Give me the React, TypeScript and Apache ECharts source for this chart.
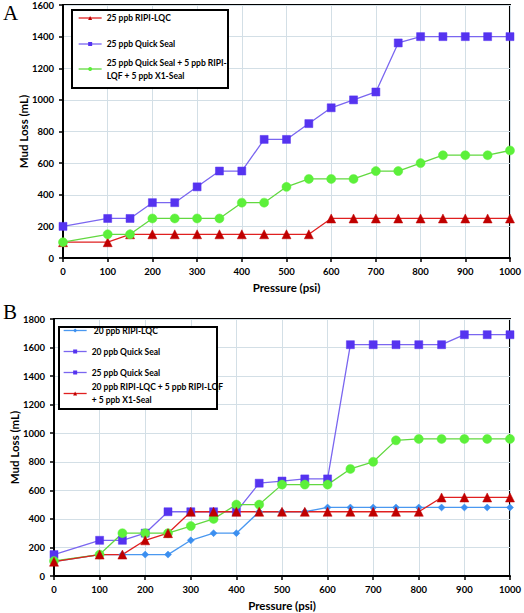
import { useEffect, useRef } from "react";
import * as echarts from "echarts";

const pressures = [0, 100, 150, 200, 250, 300, 350, 400, 450, 500, 550, 600, 650, 700, 750, 800, 850, 900, 950, 1000];

// Chart A
const a25RipiLqc = [100, 100, 150, 150, 150, 150, 150, 150, 150, 150, 150, 250, 250, 250, 250, 250, 250, 250, 250, 250];
const a25QuickSeal = [200, 250, 250, 350, 350, 450, 550, 550, 750, 750, 850, 950, 1000, 1050, 1360, 1400, 1400, 1400, 1400, 1400];
const a25Combo = [100, 150, 150, 250, 250, 250, 250, 350, 350, 450, 500, 500, 500, 550, 550, 600, 650, 650, 650, 680];

// Chart B
const b20RipiLqc = [100, 150, 150, 150, 150, 250, 300, 300, 450, 450, 450, 480, 480, 480, 480, 480, 480, 480, 480, 480];
const b20QuickSeal = [150, 250, 250, 300, 450, 450, 450, 450, 650, 665, 680, 680, 1620, 1620, 1620, 1620, 1620, 1690, 1690, 1690];
const b25QuickSeal = [105, 150, 300, 300, 300, 350, 400, 500, 500, 640, 640, 640, 750, 800, 950, 960, 960, 960, 960, 960];
const b20Combo = [100, 150, 150, 250, 300, 450, 450, 450, 450, 450, 450, 450, 450, 450, 450, 450, 550, 550, 550, 550];

const namesA = ["25 ppb RIPI-LQC", "25 ppb Quick Seal", "25 ppb Quick Seal + 5 ppb RIPI-\nLQF + 5 ppb X1-Seal"];
const namesB = [" 20 ppb RIPI-LQC", "20 ppb Quick Seal", "25 ppb Quick Seal", "20 ppb RIPI-LQC + 5 ppb RIPI-LQF\n+ 5 ppb X1-Seal"];

const xAxisTitle = "Pressure (psi)";
const yAxisTitle = "Mud Loss (mL)";

const FONT = "Lato";
const pair = (vals: number[]) => pressures.map((p, i) => [p, vals[i]]);

export default function App() {
  const ref = useRef<HTMLDivElement>(null);
  useEffect(() => {
    const chart = echarts.init(ref.current!, undefined, { renderer: "svg" });
    const axisCommon = {
      axisLine: { show: true, lineStyle: { color: "#000", width: 2 } },
      axisTick: { show: true, length: 4, lineStyle: { color: "#000", width: 1.5 } },
      axisLabel: { color: "#000", fontFamily: FONT, fontWeight: "bold", fontSize: 9.5, formatter: (v: number) => String(v) },
      splitLine: { show: true, lineStyle: { color: "#d3dfe6", width: 1 } },
      nameTextStyle: { color: "#000", fontFamily: FONT, fontWeight: "bold", fontSize: 11.5 },
    };
    const xAxisOf = (gridIndex: number) => ({
      ...axisCommon,
      gridIndex,
      type: "value",
      min: 0,
      max: 1000,
      interval: 100,
      name: xAxisTitle,
      nameLocation: "middle",
      nameGap: 23,
      axisLabel: { ...axisCommon.axisLabel, margin: 8 },
    });
    const yAxisOf = (gridIndex: number, max: number) => ({
      ...axisCommon,
      gridIndex,
      type: "value",
      min: 0,
      max,
      interval: 200,
      axisLabel: { ...axisCommon.axisLabel, margin: 9 },
    });
    const lineSeries = (
      name: string,
      vals: number[],
      idx: number,
      symbol: string,
      size: number,
      markerColor: string,
      lineColor: string
    ) => ({
      type: "line",
      name,
      data: pair(vals),
      xAxisIndex: idx,
      yAxisIndex: idx,
      symbol,
      symbolSize: size,
      showAllSymbol: true,
      itemStyle: { color: markerColor, borderColor: markerColor, borderWidth: 0.5 },
      lineStyle: { color: lineColor, width: 1.3 },
    });
    const legendBase = {
      orient: "vertical",
      itemWidth: 23,
      itemHeight: 5,
      itemGap: 12,
      itemStyle: { borderWidth: 0 },
      lineStyle: { width: 1.3 },
      textStyle: { color: "#000", fontFamily: FONT, fontWeight: "bold", fontSize: 8.5, lineHeight: 13 },
      padding: 0,
    };
    const yTitle = (x: number, y: number) => ({
      type: "text",
      x,
      y,
      rotation: Math.PI / 2,
      style: {
        text: yAxisTitle,
        font: `bold 11.5px ${FONT}`,
        fill: "#000",
        align: "center",
        verticalAlign: "middle",
      },
    });
    chart.setOption({
      animation: false,
      grid: [
        { left: 63, top: 5, width: 448, height: 253, show: true, borderColor: "#000", borderWidth: 2, containLabel: false },
        { left: 54, top: 319, width: 457, height: 257, show: true, borderColor: "#000", borderWidth: 2, containLabel: false },
      ],
      xAxis: [xAxisOf(0), xAxisOf(1)],
      yAxis: [yAxisOf(0, 1600), yAxisOf(1, 1800)],
      graphic: [
        { type: "text", left: 3, top: 2, style: { text: "A", font: "21px 'Liberation Serif'", fill: "#000" } },
        { type: "text", left: 3, top: 301, style: { text: "B", font: "21px 'Liberation Serif'", fill: "#000" } },
        yTitle(23, 131.5),
        yTitle(14, 447.5),
        { type: "rect", shape: { x: 72, y: 10, width: 156, height: 78 }, style: { fill: "#fff", stroke: "#000", lineWidth: 2 }, z: 5 },
        { type: "rect", shape: { x: 59, y: 327, width: 158, height: 82 }, style: { fill: "#fff", stroke: "#000", lineWidth: 2 }, z: 5 },
      ],
      legend: [
        { ...legendBase, left: 78, top: 11.5, itemGap: 13, data: [namesA[0], namesA[1]], z: 10 },
        { ...legendBase, left: 78, top: 49.5, data: [{ name: namesA[2], textStyle: { padding: [13, 0, 0, 0] } }], z: 10 },
        { ...legendBase, left: 63, top: 324, itemGap: 8, data: [namesB[0], namesB[1], namesB[2]], z: 10 },
        { ...legendBase, left: 63, top: 374, data: [{ name: namesB[3], textStyle: { padding: [13, 0, 0, 0] } }], z: 10 },
      ],
      series: [
        lineSeries(namesA[0], a25RipiLqc, 0, "triangle", 9, "#c00000", "#e02020"),
        lineSeries(namesA[1], a25QuickSeal, 0, "rect", 8, "#5533f0", "#7a66f0"),
        lineSeries(namesA[2], a25Combo, 0, "circle", 9, "#5cf03a", "#62d840"),
        lineSeries(namesB[0], b20RipiLqc, 1, "diamond", 7, "#3b8ff0", "#4a98f0"),
        lineSeries(namesB[1], b20QuickSeal, 1, "rect", 8, "#5533f0", "#7a66f0"),
        lineSeries(namesB[2], b25QuickSeal, 1, "circle", 9, "#5cf03a", "#62d840"),
        lineSeries(namesB[3], b20Combo, 1, "triangle", 9, "#c00000", "#e02020"),
      ],
    });
    return () => chart.dispose();
  }, []);
  return <div ref={ref} style={{ position: "absolute", left: 0, top: 0, width: 524, height: 613, background: "#fff" }} />;
}
